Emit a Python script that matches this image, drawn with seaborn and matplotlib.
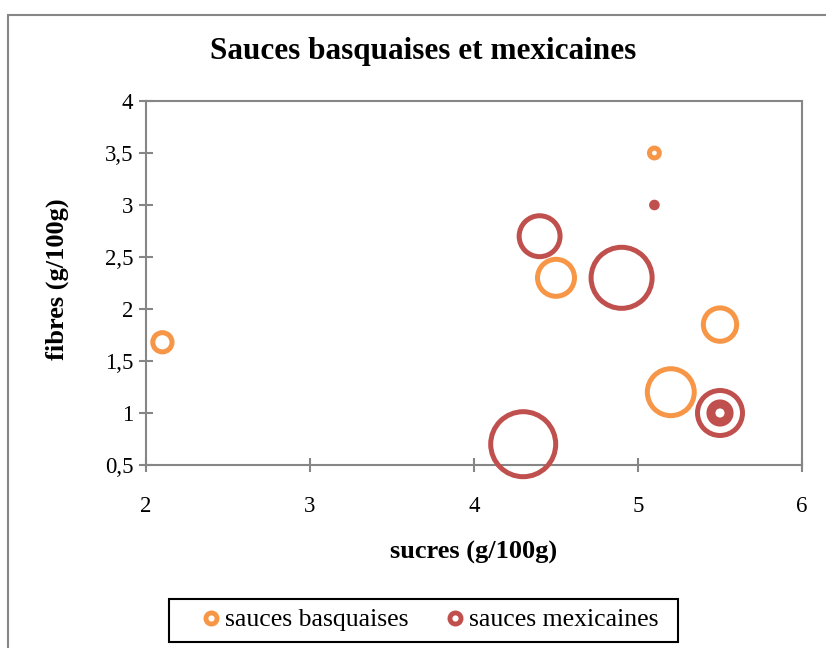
import numpy as np
import pandas as pd
import matplotlib
matplotlib.use("Agg")
import matplotlib.pyplot as plt
from matplotlib.lines import Line2D
from matplotlib.patches import Rectangle
from matplotlib.ticker import FuncFormatter
import seaborn as sns

# données
series = ["sauces basquaises", "sauces mexicaines"]
couleurs = ["#F79646", "#C0504D"]

basq_sucres = [2.1, 5.1, 4.5, 5.5, 5.2]
basq_fibres = [1.68, 3.5, 2.3, 1.85, 1.2]
basq_taille = [12, 4.5, 36, 30, 55]

mex_sucres = [5.1, 4.4, 4.9, 4.3, 5.5, 5.5, 5.5]
mex_fibres = [3.0, 2.7, 2.3, 0.7, 1.0, 1.0, 1.0]
mex_taille = [2.3, 43, 89, 100, 51, 15, 7.5]

x_ticks = [2, 3, 4, 5, 6]
y_ticks = [0.5, 1, 1.5, 2, 2.5, 3, 3.5, 4]

df = pd.concat([
    pd.DataFrame({"sucres": basq_sucres, "fibres": basq_fibres, "taille": basq_taille, "serie": series[0]}),
    pd.DataFrame({"sucres": mex_sucres, "fibres": mex_fibres, "taille": mex_taille, "serie": series[1]}),
], ignore_index=True)

sns.set_style("white")
plt.rcParams["font.family"] = ["Liberation Serif", "DejaVu Serif"]
plt.rcParams["text.color"] = "black"
plt.rcParams["axes.labelcolor"] = "black"

W, H = 826, 648
fig = plt.figure(figsize=(W / 100, H / 100), dpi=100)
ax = fig.add_axes([146 / W, 1 - 465 / H, 656 / W, 364 / H])

gris = "#868686"
lw_px = 5
R_MAX = 35  # rayon extérieur (px) de la plus grosse bulle


def taille_marqueur(t):
    r = R_MAX * np.sqrt(np.asarray(t) / 100.0)
    d = np.maximum(2 * r - lw_px, 0.5)
    return (d * 0.72) ** 2


for nom, coul in zip(series, couleurs):
    sub = df[df["serie"] == nom]
    sns.scatterplot(data=sub, x="sucres", y="fibres", ax=ax,
                    s=taille_marqueur(sub["taille"]), facecolor="none",
                    edgecolor=coul, linewidth=lw_px * 0.72, legend=False,
                    clip_on=False, zorder=3)

ax.set_xlim(2, 6)
ax.set_ylim(0.5, 4)
ax.set_xticks(x_ticks)
ax.set_yticks(y_ticks)
fmt = FuncFormatter(lambda v, _: f"{v:g}".replace(".", ","))
ax.xaxis.set_major_formatter(fmt)
ax.yaxis.set_major_formatter(fmt)

for sp in ax.spines.values():
    sp.set_visible(True)
    sp.set_color(gris)
    sp.set_linewidth(1.5)
ax.tick_params(axis="both", direction="inout", length=10, width=1.5, color=gris,
               labelsize=16.5, labelcolor="black")
ax.tick_params(axis="x", pad=17, bottom=True)
ax.tick_params(axis="y", pad=4, left=True)

ax.set_xlabel("sucres (g/100g)", fontsize=19, fontweight="bold", color="black")
ax.set_ylabel("fibres (g/100g)", fontsize=19, fontweight="bold", color="black")
ax.xaxis.label.set_va("center")
ax.yaxis.label.set_va("center")
ax.xaxis.set_label_coords((474 - 146) / 656, (465 - 552) / 364)
ax.yaxis.set_label_coords((57 - 146) / 656, (465 - 279) / 364)

fig.text(423 / W, 1 - 52 / H, "Sauces basquaises et mexicaines",
         ha="center", va="center", fontsize=22.5, fontweight="bold", color="black")

handles = [Line2D([], [], linestyle="none", marker="o", markersize=8,
                  markerfacecolor="white", markeredgecolor=c, markeredgewidth=3.5)
           for c in couleurs]
leg = fig.legend(handles, series, loc="center", bbox_to_anchor=(428 / W, 1 - 620 / H),
                 ncol=2, fontsize=18.5, frameon=False, labelcolor="black",
                 handletextpad=0.05, columnspacing=1.3, handlelength=1.0,
                 borderpad=0.3, borderaxespad=0)

# cadre de la légende
fig.patches.append(Rectangle((169 / W, 1 - 642 / H), 509 / W, 43 / H, transform=fig.transFigure,
                             fill=False, edgecolor="black", linewidth=1.5))
# cadre extérieur du graphique
fig.patches.append(Rectangle((8 / W, -0.1), 1.1, 1.1 - 15 / H, transform=fig.transFigure,
                             fill=False, edgecolor=gris, linewidth=1.5))

fig.savefig("out.png", dpi=100)
